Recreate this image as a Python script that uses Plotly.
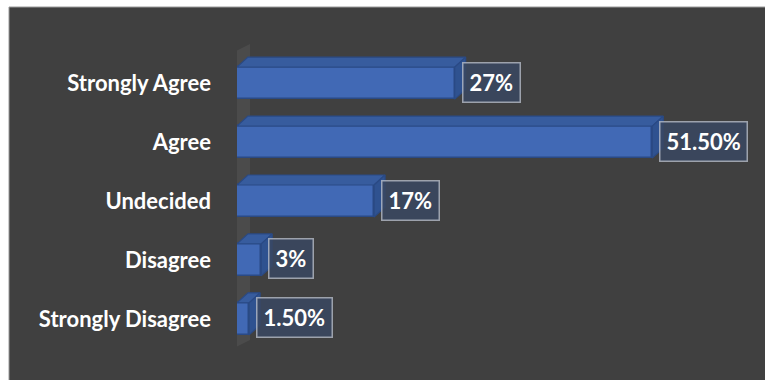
import plotly.graph_objects as go

# Survey responses (share of respondents, %)
categories = ["Strongly Agree", "Agree", "Undecided", "Disagree", "Strongly Disagree"]
percent = [27, 51.5, 17, 3, 1.5]
value_labels = ["27%", "51.50%", "17%", "3%", "1.50%"]

BG = "#404040"
FRONT = "#4169b5"
TOP = "#375c9e"
SIDE = "#2f5290"
EDGE = "#2a4a85"
FONT = "Lato"

# plot-area geometry in pixels
L, R, T, B = 237, 12, 36, 14
FIG_W, FIG_H = 765, 380
W, H = FIG_W - L - R, FIG_H - T - B
XMAX = 64
YLO, YHI = -0.8, 4.8
px_x = W / XMAX
px_y = H / (YHI - YLO)

# 3-D extrusion of each bar, converted to axis units
DX = 11 / px_x
DY = 10 / px_y
HALF = 16 / px_y

ypos = list(range(len(categories)))

fig = go.Figure()

# front faces
fig.add_trace(go.Bar(
    x=percent, y=ypos, orientation="h", width=2 * HALF,
    marker=dict(color=FRONT, line=dict(color=EDGE, width=1.5)),
    hoverinfo="skip", showlegend=False,
))

# top and side faces of each bar
for v, yc in zip(percent, ypos):
    y0, y1 = yc - HALF, yc + HALF
    fig.add_trace(go.Scatter(
        x=[0, v, v + DX, DX, 0],
        y=[y0, y0, y0 - DY, y0 - DY, y0],
        mode="lines", fill="toself", fillcolor=TOP,
        line=dict(color=EDGE, width=1.2),
        hoverinfo="skip", showlegend=False,
    ))
    fig.add_trace(go.Scatter(
        x=[v, v + DX, v + DX, v, v],
        y=[y0, y0 - DY, y1 - DY, y1, y0],
        mode="lines", fill="toself", fillcolor=SIDE,
        line=dict(color=EDGE, width=1.2),
        hoverinfo="skip", showlegend=False,
    ))

# data labels in framed boxes
annotations = []
for v, yc, txt in zip(percent, ypos, value_labels):
    annotations.append(dict(
        x=v, y=yc, xref="x", yref="y", text=txt, showarrow=False,
        xanchor="left", yanchor="middle", xshift=7, yshift=1,
        font=dict(family=FONT, size=22, weight="bold", color="white"),
        bgcolor="rgba(58,72,98,0.85)", bordercolor="rgba(190,195,205,0.75)",
        borderwidth=1.5, borderpad=6, height=26,
    ))

# back wall of the 3-D frame
wx0 = -3 / px_x
wx1 = wx0 + 16 / px_x
wdy = 8 / px_y
wy_top = YLO + (52 - T) / px_y
wy_bot = YLO + (348 - T) / px_y
wall_path = (f"M {wx0},{wy_top} L {wx1},{wy_top - wdy} L {wx1},{wy_bot - wdy} "
             f"L {wx0},{wy_bot} Z")

shapes = [
    # chart area background with thin frame
    dict(type="rect", xref="paper", yref="paper", layer="below",
         x0=(9 - L) / W, x1=(FIG_W + 5 - L) / W,
         y0=(T + H - FIG_H - 5) / H, y1=(T + H - 7) / H,
         fillcolor=BG, line=dict(color="#9a9a9a", width=1)),
    dict(type="path", xref="x", yref="y", layer="below", path=wall_path,
         fillcolor="rgba(255,255,255,0.06)", line=dict(width=0)),
]

fig.update_layout(
    width=FIG_W, height=FIG_H,
    margin=dict(l=L, r=R, t=T, b=B),
    paper_bgcolor="white", plot_bgcolor="rgba(0,0,0,0)",
    shapes=shapes, annotations=annotations,
    bargap=0,
    xaxis=dict(range=[0, XMAX], visible=False, fixedrange=True),
    yaxis=dict(
        range=[YHI, YLO], tickmode="array", tickvals=ypos, ticktext=categories,
        showgrid=False, zeroline=False, showline=False, ticks="",
        ticklabelstandoff=25,
        tickfont=dict(family=FONT, size=22, color="white", weight="bold"),
        fixedrange=True,
    ),
)

fig.write_html("out.html")
